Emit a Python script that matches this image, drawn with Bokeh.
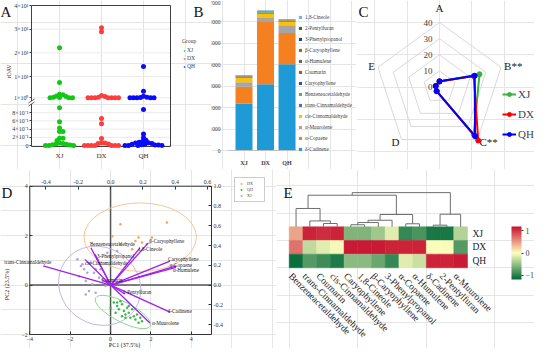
import math
import numpy as np
from bokeh.plotting import figure
from bokeh.layouts import row, column
from bokeh.models import (Range1d, LinearAxis, FixedTicker, Legend, LegendItem, LabelSet,
                          ColumnDataSource, LinearColorMapper, ColorBar, NumeralTickFormatter)
from bokeh.core.properties import value
from bokeh.embed import file_html
from bokeh.resources import INLINE

# ======================= DATA =======================
groups = ["XJ", "DX", "QH"]

# --- Panel A: rOAV values per group ---
roav_XJ = [22.2, 7.5, 2.5, 2.3, 1.8, 1.6, 1.2, 1.1, 1.0, 1.0, 1.0,
           0.92, 0.58, 0.43, 0.34, 0.34, 0.18, 0.18, 0.12, 0.06, 0.05, 0.04,
           0.03, 0.02, 0.01, 0.0, 0.0, 0.0]
roav_DX = [30.6, 28.9, 2.0, 1.6, 1.2, 1.0, 1.0, 1.0, 1.0, 1.0, 1.0, 1.0,
           0.66, 0.53, 0.17, 0.07, 0.06, 0.05, 0.04, 0.0, 0.0, 0.0, 0.0, 0.0, 0.0, 0.0]
roav_QH = [14.2, 3.8, 1.7, 1.2, 1.1, 1.0, 1.0, 1.0, 1.0, 1.0,
           0.88, 0.28, 0.19, 0.13, 0.10, 0.08, 0.07, 0.06, 0.05, 0.04, 0.03,
           0.02, 0.01, 0.01, 0.0, 0.0, 0.0, 0.0]
roav_top_ticks = [10, 20, 30, 40]
roav_top_labels = ["1×10¹", "2×10¹", "3×10¹", "4×10¹"]
roav_bot_ticks = [0, 0.2, 0.4, 0.6, 0.8, 1]
roav_bot_labels = ["0", "2×10⁻¹", "4×10⁻¹", "6×10⁻¹", "8×10⁻¹", "1×10⁰"]

# --- Panel B: stacked concentrations (bottom to top) ---
compounds_B = ["δ-Cadinene", "α-Copaene", "α-Muurolene", "cis-Cinnamaldehyde",
               "trans-Cinnamaldehyde", "Benzeneacetaldehyde", "Caryophyllene", "Coumarin",
               "α-Humulene", "β-Caryophyllene", "3-Phenylpropanol", "2-Pentylfuran",
               "1,8-Cineole"]
conc_XJ = [2180, 800, 205, 215, 30, 15, 10, 10, 8, 8, 10, 12, 17]
conc_DX = [3090, 2910, 180, 200, 60, 20, 15, 10, 10, 10, 10, 10, 15]
conc_QH = [4030, 1450, 360, 160, 30, 20, 10, 5, 10, 10, 10, 15, 10]
conc_ticks = [0, 1000, 2000, 3000, 4000, 5000, 6000, 7000]

# --- Panel C: radar ---
radar_axes = ["A", "B**", "C**", "D", "E"]
radar_XJ = [3.5, 26.0, 36.0, 3.0, 2.5]
radar_DX = [3.5, 22.3, 40.7, 3.0, 2.5]
radar_QH = [3.7, 22.9, 37.4, 3.0, 2.4]
radar_ticks = [0, 10, 20, 30, 40]

# --- Panel D: PCA scores ---
pc1_DX = [0.49, 2.79, 0.08, 1.39, 2.05, 1.23, 1.56, 1.07, 0.49, 1.80]
pc2_DX = [2.46, 2.53, 1.98, 1.92, 1.92, 1.78, 1.72, 1.45, 1.65, 1.65]
pc1_XJ = [-1.64, -1.47, -1.31, -1.15, -0.98, -0.74, -0.57, -1.56, -1.23, -0.90, -1.07,
          -0.74, -0.41, -0.25, -1.23, -0.82, -1.39, -0.49, -0.16, 0.33, -0.65]
pc2_XJ = [1.04, 0.77, 0.64, 0.50, 0.91, 0.64, 0.30, 0.36, 0.16, 0.03, -0.24,
          -0.31, 0.23, -0.04, -0.38, 0.50, 0.84, 0.64, 1.31, 1.38, 1.04]
pc1_QH = [0.16, 0.33, 0.41, 0.57, 0.66, 0.74, 0.82, 0.90, 0.98, 1.07, 1.15, 1.23, 1.31,
          1.47, 0.49, 0.25, 0.00, 1.56, 0.90, 0.74, 0.57, 0.33, 1.39]
pc2_QH = [-0.71, -0.85, -0.98, -0.78, -1.05, -1.19, -0.92, -1.12, -1.32, -0.98, -1.26,
          -1.39, -1.19, -1.32, -0.65, -1.12, -0.92, -1.46, -0.85, -1.32, -1.26, -0.71, -1.52]
# confidence ellipses: DX, QH, XJ  (centre, width, height, angle)
ell_groups = ["DX", "QH", "XJ"]
ell_x = [1.47, 0.61, -0.54]
ell_y = [1.94, -1.09, -0.03]
ell_w = [5.57, 3.04, 4.2]
ell_h = [2.77, 0.81, 3.1]
ell_angle = [0.0, -0.476, -0.6]
# loadings
load_names = ["trans-Cinnamaldehyde", "Benzeneacetaldehyde", "3-Phenylpropanol",
              "cis-Cinnamaldehyde", "Coumarin", "1,8-Cineole", "β-Caryophyllene",
              "Caryophyllene", "α-Copaene", "α-Humulene", "2-Pentylfuran", "δ-Cadinene",
              "α-Muurolene"]
load_pc1 = [-0.417, -0.122, -0.097, -0.159, -0.048, 0.181, 0.233, 0.367, 0.408, 0.404,
            0.088, 0.367, 0.243]
load_pc2 = [0.193, 0.377, 0.31, 0.26, 0.05, 0.377, 0.427, 0.243, 0.193, 0.18,
            -0.09, -0.273, -0.383]
pc1_ticks = [-4, -2, 0, 2, 4]
pc2_ticks = [-2, 0, 2, 4]
ld1_ticks = [-0.4, -0.2, 0.0, 0.2, 0.4, 0.6]
ld2_ticks = [-0.4, -0.2, 0.0, 0.2, 0.4, 0.6, 0.8, 1.0]

# --- Panel E: heatmap (row-scaled) ---
heat_cols = ["Benzeneacetaldehyde", "trans-Cinnamaldehyde", "Coumarin", "cis-Cinnamaldehyde",
             "Caryophyllene", "1,8-Cineole", "β-Caryophyllene", "3-Phenylpropanol",
             "α-Copaene", "α-Humulene", "δ-Cadinene", "2-Pentylfuran", "α-Muurolene"]
heat_rows = ["XJ", "DX", "QH"]
z_XJ = [0.45, 1.10, 1.05, 1.10, -0.60, -0.60, -0.45, -0.15, -0.95, -0.85, -1.08, -1.08, -0.35]
z_DX = [0.70, -0.30, -0.15, -0.05, 1.15, 1.15, 1.15, 1.10, 1.10, 1.10, -0.02, -0.02, -0.80]
z_QH = [-1.15, -0.80, -0.90, -1.05, -0.55, -0.55, -0.70, -0.95, -0.15, -0.25, 1.10, 1.10, 1.15]
# column dendrogram: (child a, child b, height); new clusters numbered from 13
dend_merges = [(10, 11, 0.12), (4, 5, 0.15), (2, 3, 0.24), (8, 9, 0.22), (14, 6, 0.31),
               (1, 15, 0.43), (17, 7, 0.48), (19, 16, 0.90), (13, 12, 0.92),
               (0, 18, 1.34), (22, 20, 2.31), (23, 21, 2.50)]
cbar_ticks = [-1, 0, 1]
cbar_labels = ["−1", "0", "1"]

# ======================= STYLE / GEOMETRY =======================
SERIF = "Liberation Serif"
GCOL = {"XJ": "#12c812", "DX": "#ff3d3d", "QH": "#0a0aff"}


def lin(p0, p1, v0, v1):
    k = (v1 - v0) / (p1 - p0)
    return lambda p: v0 + (p - p0) * k


def make_panel(fig_box, fx, fy):
    x0, y0, x1, y1 = fig_box
    p = figure(width=int(x1 - x0), height=int(y1 - y0), x_range=Range1d(fx(x0), fx(x1)),
               y_range=Range1d(fy(y1), fy(y0)), output_backend="svg", toolbar_location=None,
               title=None, x_axis_location=None, y_axis_location=None, min_border=0)
    p.outline_line_color = None
    p.background_fill_color = "white"
    p.border_fill_color = "white"
    return p


def tick_axis(ticks, labels=None, size="6px", **kw):
    opts = dict(minor_tick_line_color=None, major_label_text_font=SERIF,
                major_label_text_font_size=size, major_label_text_color="#333333",
                axis_line_color=None)
    opts.update(kw)
    ax = LinearAxis(ticker=FixedTicker(ticks=ticks), **opts)
    if labels is not None:
        ax.major_label_overrides = dict(zip(ticks, labels))
    return ax


def swarm(vals, to_px, diam=3.3, px_per_unit=42.0):
    vals = np.asarray(vals, float)
    ys = np.array([to_px(v) for v in vals])
    cands = [0.0]
    for k in range(1, 300):
        cands += [k * 0.5, -k * 0.5]
    px, py = [], []
    offs = np.zeros(len(vals))
    for i in np.argsort(-vals, kind="stable"):
        for c in cands:
            if all((c - a) ** 2 + (ys[i] - b) ** 2 >= diam ** 2 for a, b in zip(px, py)):
                break
        px.append(c)
        py.append(ys[i])
        offs[i] = c / px_per_unit
    return offs


def letter(p, fx, fy, px, py, txt):
    p.text([fx(px)], [fy(py)], text=[txt], text_font=value(SERIF), text_font_size="15px",
           text_baseline="alphabetic", text_color="#111111")


# ======================= PANEL A (broken y axis) =======================
def brk(v):
    # broken axis: 0..1 linear, then a compressed segment for values >= 1
    return v if v < 1 else 1.106 + 0.0577 * v


XA = (0.333, 3.643)
YA = (-0.024, 3.415)
fxA = lin(35, 174, *XA)
fyA = lin(152, 11, *YA)
pA = make_panel((4, 6, 215, 175), fxA, fyA)
yt = [brk(t) for t in roav_bot_ticks + roav_top_ticks]
# grid lines inside the plot box
pA.segment(x0=[1, 2, 3], y0=[YA[0]] * 3, x1=[1, 2, 3], y1=[YA[1]] * 3, line_color="#e3e3e3")
pA.segment(x0=[XA[0]] * len(yt), y0=yt, x1=[XA[1]] * len(yt), y1=yt, line_color="#ebebeb")
pA.add_layout(tick_axis(yt, roav_bot_labels + roav_top_labels, "6px", fixed_location=XA[0],
                        major_tick_out=2, major_tick_in=0, major_label_standoff=1,
                        major_tick_line_color="#404040"), "left")
pA.add_layout(tick_axis([1, 2, 3], groups, "7px", fixed_location=YA[0], major_tick_out=0,
                        major_tick_in=0, major_tick_line_color=None,
                        major_label_standoff=5), "below")
pA.quad(left=[XA[0]], right=[XA[1]], bottom=[YA[0]], top=[YA[1]], fill_color=None,
        line_color="#404040", line_width=1)
# axis-break mark on the left edge
pA.quad(left=[fxA(33)], right=[fxA(37)], bottom=[fyA(109.5)], top=[fyA(106.5)],
        fill_color="white", line_color=None)
pA.segment(x0=[fxA(32), fxA(32)], y0=[fyA(108.5), fyA(111.5)], x1=[fxA(38), fxA(38)],
           y1=[fyA(104.5), fyA(107.5)], line_color="#404040", line_width=0.8)

to_px = lambda v: (YA[1] - brk(v)) * 41
rsA = {}
for gi, (g, vals) in enumerate(zip(groups, [roav_XJ, roav_DX, roav_QH])):
    xs = gi + 1 + swarm(vals, to_px)
    rsA[g] = pA.scatter(xs, [brk(v) for v in vals], size=5, color=GCOL[g], line_color=None)

legA = Legend(items=[LegendItem(label=g, renderers=[rsA[g]]) for g in groups],
              title="Group", location=(182, 100), title_text_font=SERIF,
              title_text_font_size="5.6px", title_text_font_style="normal",
              title_standoff=3, label_text_font=SERIF, label_text_font_size="5.6px",
              glyph_width=4, glyph_height=5, label_height=6, spacing=2, padding=0,
              margin=0, label_standoff=1, border_line_color=None, background_fill_alpha=0)
pA.add_layout(legA)
pA.text([fxA(12)], [fyA(77)], text=["rOAV"], angle=math.pi / 2, text_align="center",
        text_baseline="middle", text_font=value(SERIF), text_font_size="6px",
        text_color="#222222")
letter(pA, fxA, fyA, 4, 17, "A")
letter(pA, fxA, fyA, 197, 17, "B")

# ======================= PANEL B =======================
XB = (0.279, 3.44)
fxB = lin(232, 300, *XB)
fyB = lin(156, 6, 0, 7000)
pB = make_panel((215, 6, 360, 175), fxB, fyB)
colorsB = ["#1e9bd7", "#f5801f", "#a5a5a5", "#ffc000", "#4472c4", "#70ad47", "#255e91",
           "#c0501a", "#636363", "#997300", "#264478", "#43682b", "#6db6e6"]
srcB = {"x": [1, 2, 3]}
for k, name in enumerate(compounds_B):
    srcB[name] = [conc_XJ[k], conc_DX[k], conc_QH[k]]
srcB = ColumnDataSource(srcB)
rsB = pB.vbar_stack(compounds_B, x="x", width=0.79, fill_color=colorsB, line_color=None,
                    source=srcB)
pB.segment(x0=[XB[0]], y0=[0], x1=[XB[1]], y1=[0], line_color="#bfbfbf", line_width=1)
pB.add_layout(tick_axis(conc_ticks, None, "5.5px", fixed_location=XB[0],
                        major_tick_line_color=None, major_label_standoff=2,
                        major_label_text_color="#404040"), "left")
pB.add_layout(tick_axis([1, 2, 3], groups, "6px", fixed_location=0,
                        major_tick_line_color=None, major_label_standoff=3,
                        major_label_text_font_style="bold",
                        major_label_text_color="#404040"), "below")
legB = Legend(items=[LegendItem(label=n, renderers=[r]) for n, r in
                     reversed(list(zip(compounds_B, rsB)))],
              location=(87, 16.5), label_text_font=SERIF, label_text_font_size="5.2px",
              label_text_color="#404040", glyph_width=4, glyph_height=4, label_height=7,
              spacing=4, padding=0, margin=0, label_standoff=3, border_line_color=None,
              background_fill_alpha=0)
pB.add_layout(legB)

# ======================= PANEL C =======================
fxC = lin(443, 443 + 64.7, 0, 40)
fyC = lin(92.7, 92.7 - 64.7, 0, 40)
pC = make_panel((360, 6, 538, 175), fxC, fyC)
ang = [2 * math.pi * k / 5 for k in range(5)]
ring_xs = [[r * math.sin(a) for a in ang] for r in radar_ticks[1:]]
ring_ys = [[r * math.cos(a) for a in ang] for r in radar_ticks[1:]]
pC.patches(ring_xs, ring_ys, fill_color=None, line_color="#d9d9d9", line_width=1)
pC.text([-4.3] * len(radar_ticks), radar_ticks, text=[str(t) for t in radar_ticks],
        text_align="right", text_baseline="middle", text_font=value(SERIF),
        text_font_size="9px", text_color="#404040")
lab_r = [45, 42, 42, 42, 42]
lab_align = ["center", "left", "left", "right", "right"]
lab_base = ["bottom", "middle", "middle", "middle", "middle"]
for k, name in enumerate(radar_axes):
    pC.text([lab_r[k] * math.sin(ang[k])], [lab_r[k] * math.cos(ang[k])], text=[name],
            text_align=lab_align[k], text_baseline=lab_base[k], text_font=value(SERIF),
            text_font_size="11px", text_color="#222222")
radar_col = {"XJ": "#3cb043", "DX": "#ff0000", "QH": "#0000ff"}
itemsC = []
for g, vals in zip(groups, [radar_XJ, radar_DX, radar_QH]):
    xs = [v * math.sin(a) for v, a in zip(vals, ang)]
    ys = [v * math.cos(a) for v, a in zip(vals, ang)]
    rl = pC.line(xs + xs[:1], ys + ys[:1], line_color=radar_col[g], line_width=2)
    rs = pC.scatter(xs, ys, size=5, color=radar_col[g])
    itemsC.append(LegendItem(label=g, renderers=[rl, rs]))
legC = Legend(items=itemsC, location=(146, 29), label_text_font=SERIF,
              label_text_font_size="11px", glyph_width=14, glyph_height=10, label_height=10,
              spacing=8, padding=0, margin=0, label_standoff=2, border_line_color=None,
              background_fill_alpha=0)
pC.add_layout(legC)
letter(pC, fxC, fyC, 362, 17, "C")

# ======================= PANEL D =======================
XD, YD = (-4, 5), (-2, 4)
LX, LY = (-0.5, 0.624), (-0.5, 1.0)
DBOX = (33.3, 215, 340, 191.7)   # left, right, bottom, top (px)
fxD = lin(DBOX[0], DBOX[1], *XD)
fyD = lin(DBOX[2], DBOX[3], *YD)
flx = lin(DBOX[0], DBOX[1], *LX)
fly = lin(DBOX[2], DBOX[3], *LY)
figD = (4, 175, 280, 354)
pD = make_panel(figD, fxD, fyD)
pD.extra_x_ranges = {"lx": Range1d(flx(figD[0]), flx(figD[2]))}
pD.extra_y_ranges = {"ly": Range1d(fly(figD[3]), fly(figD[1]))}
common = dict(major_tick_in=3, major_tick_out=0, major_label_standoff=2,
              major_tick_line_color="#333333")
pD.add_layout(tick_axis(pc1_ticks, None, "6px", fixed_location=YD[0], **common), "below")
pD.add_layout(tick_axis(pc2_ticks, None, "6px", fixed_location=XD[0], **common), "left")
pD.add_layout(tick_axis(ld1_ticks, None, "6px", x_range_name="lx", fixed_location=YD[1],
                        formatter=NumeralTickFormatter(format="0.0"), **common), "above")
pD.add_layout(tick_axis(ld2_ticks, None, "6px", y_range_name="ly", fixed_location=XD[1],
                        formatter=NumeralTickFormatter(format="0.0"), **common), "right")
pD.segment(x0=[0, XD[0]], y0=[YD[0], 0], x1=[0, XD[1]], y1=[YD[1], 0], line_color="#555555",
           line_width=1.5)
ell_col = {"DX": "#f8c690", "QH": "#86d98a", "XJ": "#c6b4e2"}
pD.ellipse(x=ell_x, y=ell_y, width=ell_w, height=ell_h, angle=ell_angle, fill_color=None,
           line_color=[ell_col[g] for g in ell_groups], line_width=1)
pt_col = {"DX": "#f5a54a", "QH": "#3cb94a", "XJ": "#b59ddb"}
rD = {}
for g, xs, ys in [("DX", pc1_DX, pc2_DX), ("QH", pc1_QH, pc2_QH), ("XJ", pc1_XJ, pc2_XJ)]:
    rD[g] = pD.scatter(xs, ys, size=2.5, color=pt_col[g], line_color=None)
pD.segment(x0=[0] * len(load_pc1), y0=[0] * len(load_pc1), x1=load_pc1, y1=load_pc2,
           x_range_name="lx", y_range_name="ly", line_color="#a020f0", line_width=1.3)
pD.quad(left=[XD[0]], right=[XD[1]], bottom=[YD[0]], top=[YD[1]], fill_color=None,
        line_color="#333333", line_width=1)
lab_dx = [8, -1, 2, 0, -1, -2, 1, -2, -7, -3, -2, -2, 2]
lab_dy = [3.5, 4, -2, -4, 0, -1, 1.6, 1.7, 0.5, -3, 1.7, 0.6, 0]
lab_right = [True] + [False] * 12
for right in (True, False):
    idx = [i for i in range(len(load_names)) if lab_right[i] == right]
    src = ColumnDataSource(dict(x=[load_pc1[i] for i in idx], y=[load_pc2[i] for i in idx],
                                t=[load_names[i] for i in idx], dx=[lab_dx[i] for i in idx],
                                dy=[lab_dy[i] for i in idx]))
    pD.add_layout(LabelSet(x="x", y="y", text="t", x_offset="dx", y_offset="dy", source=src,
                           x_range_name="lx", y_range_name="ly",
                           text_align="right" if right else "left", text_baseline="middle",
                           text_font=SERIF, text_font_size="5.2px", text_color="#1a1a1a"))
pD.text([fxD(128)], [fyD(350)], text=["PC1 (37.5%)"], text_align="center",
        text_baseline="middle", text_font=value(SERIF), text_font_size="6px",
        text_color="#222222")
pD.text([fxD(10)], [fyD(290)], text=["PC2 (23.5%)"], angle=math.pi / 2, text_align="center",
        text_baseline="middle", text_font=value(SERIF), text_font_size="6px",
        text_color="#222222")
legD = Legend(items=[LegendItem(label=g, renderers=[rD[g]]) for g in ["DX", "QH", "XJ"]],
              location=(234, 146), label_text_font=SERIF, label_text_font_size="4px",
              glyph_width=6, glyph_height=5, label_height=5, label_width=14, spacing=1,
              padding=3, margin=0, label_standoff=3, border_line_color="#999999",
              border_line_width=0.5)
pD.add_layout(legD)
letter(pD, fxD, fyD, 5, 198, "D")

# ======================= PANEL E =======================
fxE = lin(292.7, 471, 0, 13)
fyE = lin(273.3, 232.3, 0, 3)
figE = (280, 175, 538, 354)
pE = make_panel(figE, fxE, fyE)
fdE = lin(232.3, 232.3 - 13.67, 0, 1)      # dendrogram height scale
pE.extra_y_ranges = {"dend": Range1d(fdE(figE[3]), fdE(figE[1]))}


def lerp_palette(stops, n=256):
    rgb = [tuple(int(s[i:i + 2], 16) for i in (1, 3, 5)) for s in stops]
    out = []
    for i in range(n):
        t = i / (n - 1) * (len(rgb) - 1)
        j = min(int(t), len(rgb) - 2)
        f = t - j
        out.append("#%02x%02x%02x" % tuple(round(a + (b - a) * f) for a, b in zip(rgb[j], rgb[j + 1])))
    return out


mapper = LinearColorMapper(palette=lerp_palette(["#006937", "#ffffbf", "#c8102e"]),
                           low=-1.2, high=1.2)
hx, hy, hz = [], [], []
for ri, zs in enumerate([z_XJ, z_DX, z_QH]):
    for ci, z in enumerate(zs):
        hx.append(ci + 0.5)
        hy.append(2.5 - ri)
        hz.append(z)
srcE = ColumnDataSource(dict(x=hx, y=hy, z=hz))
pE.rect(x="x", y="y", width=1, height=1, source=srcE,
        fill_color={"field": "z", "transform": mapper},
        line_color={"field": "z", "transform": mapper}, line_width=0.5)

pos = {i: i + 0.5 for i in range(len(heat_cols))}
hgt = {i: 0.0 for i in range(len(heat_cols))}
dxs, dys = [], []
for k, (a, b, h) in enumerate(dend_merges):
    node = len(heat_cols) + k
    dxs.append([pos[a], pos[a], pos[b], pos[b]])
    dys.append([hgt[a], h, h, hgt[b]])
    pos[node] = (pos[a] + pos[b]) / 2
    hgt[node] = h
pE.multi_line(dxs, dys, y_range_name="dend", line_color="#6e6e6e", line_width=1)

pE.text([fxE(476)] * 3, [2.5, 1.5, 0.5], text=heat_rows, text_align="left",
        text_baseline="middle", text_font=value(SERIF), text_font_size="9.5px",
        text_color="#222222")
pE.text([i + 0.35 for i in range(len(heat_cols))], [-0.25] * len(heat_cols), text=heat_cols,
        angle=-math.pi / 4, text_align="left", text_baseline="top", text_font=value(SERIF),
        text_font_size="9.5px", text_color="#222222")
cbar = ColorBar(color_mapper=mapper, ticker=FixedTicker(ticks=cbar_ticks),
                major_label_overrides=dict(zip(cbar_ticks, cbar_labels)),
                width=10, height=53, padding=0, margin=0, location=(235, 69),
                major_label_text_font=SERIF, major_label_text_font_size="8px",
                major_tick_in=0, major_tick_out=2, major_tick_line_color="#333333",
                bar_line_color=None, label_standoff=2, background_fill_alpha=0,
                border_line_color=None)
pE.add_layout(cbar)
letter(pE, fxE, fyE, 287, 198, "E")

# ======================= LAYOUT =======================
layout = column(row(pA, pB, pC, spacing=0), row(pD, pE, spacing=0), spacing=0)
open("out.html", "w").write(file_html(layout, INLINE))
